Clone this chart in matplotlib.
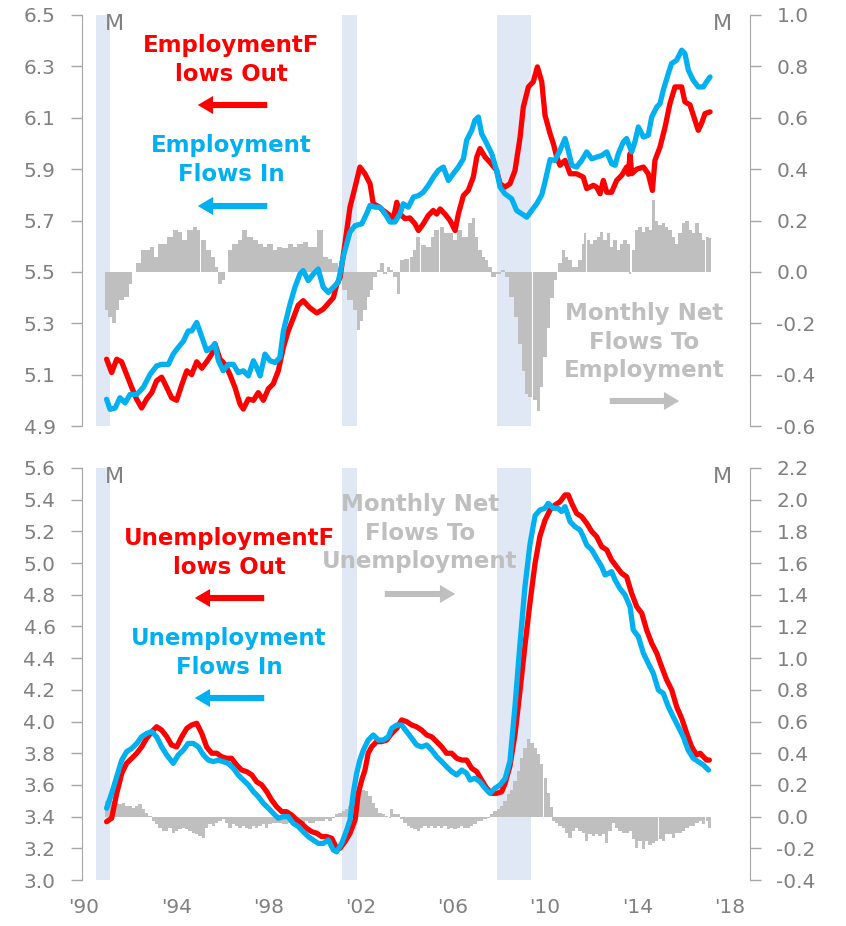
import numpy as np
import matplotlib
matplotlib.use("Agg")
from matplotlib import pyplot as plt
from matplotlib.ticker import FormatStrFormatter

plt.rcParams['font.family'] = ['DejaVu Sans']
plt.rcParams['axes.unicode_minus'] = False

# ---- data (millions, monthly flows) ----
recessions = [(1990.52, 1991.13), (2001.19, 2001.84), (2007.92, 2009.39)]

emp_out_years = [1990.98, 1991.20, 1991.42, 1991.63, 1991.85, 1992.07, 1992.28, 1992.50, 1992.72, 1992.94,
                 1993.15, 1993.37, 1993.59, 1993.80, 1994.02, 1994.24, 1994.46, 1994.67, 1994.89, 1995.11,
                 1995.32, 1995.54, 1995.68, 1995.90, 1996.12, 1996.33, 1996.55, 1996.77, 1996.91, 1997.13,
                 1997.35, 1997.56, 1997.78, 1998.00, 1998.21, 1998.43, 1998.65, 1998.86, 1999.08, 1999.29,
                 1999.51, 1999.80, 2000.10, 2000.38, 2000.67, 2000.82, 2000.96, 2001.11, 2001.32, 2001.54,
                 2001.76, 2001.97, 2002.19, 2002.41, 2002.55, 2002.77, 2002.98, 2003.20, 2003.42, 2003.57,
                 2003.71, 2003.93, 2004.14, 2004.36, 2004.51, 2004.72, 2004.94, 2005.15, 2005.30, 2005.45,
                 2005.66, 2005.88, 2006.10, 2006.24, 2006.46, 2006.67, 2006.89, 2007.04, 2007.18, 2007.40,
                 2007.61, 2007.90, 2008.05, 2008.26, 2008.48, 2008.70, 2008.92, 2009.06, 2009.28, 2009.49,
                 2009.67, 2009.86, 2010.00, 2010.22, 2010.36, 2010.51, 2010.65, 2010.87, 2011.09, 2011.37,
                 2011.66, 2011.81, 2012.10, 2012.24, 2012.39, 2012.53, 2012.68, 2012.89, 2013.11, 2013.33,
                 2013.54, 2013.62, 2013.69, 2013.76, 2013.98, 2014.27, 2014.48, 2014.66, 2014.77, 2014.99,
                 2015.21, 2015.42, 2015.64, 2015.93, 2016.07, 2016.29, 2016.51, 2016.65, 2016.80, 2016.94,
                 2017.16]
emp_out = [5.160, 5.108, 5.160, 5.150, 5.100, 5.050, 5.005, 4.970, 5.005, 5.030,
           5.076, 5.090, 5.050, 5.010, 5.000, 5.060, 5.115, 5.100, 5.150, 5.125,
           5.150, 5.180, 5.220, 5.160, 5.140, 5.100, 5.050, 4.985, 4.966, 5.005,
           5.000, 5.030, 5.000, 5.045, 5.064, 5.115, 5.206, 5.270, 5.320, 5.370,
           5.388, 5.360, 5.340, 5.355, 5.385, 5.400, 5.450, 5.479, 5.610, 5.752,
           5.830, 5.908, 5.882, 5.843, 5.765, 5.755, 5.739, 5.725, 5.707, 5.771,
           5.725, 5.707, 5.710, 5.687, 5.661, 5.687, 5.720, 5.739, 5.725, 5.745,
           5.725, 5.700, 5.661, 5.725, 5.797, 5.817, 5.869, 5.947, 5.980, 5.947,
           5.927, 5.895, 5.843, 5.830, 5.843, 5.895, 6.025, 6.142, 6.220, 6.240,
           6.298, 6.240, 6.110, 6.038, 6.000, 5.947, 5.915, 5.934, 5.882, 5.882,
           5.869, 5.824, 5.837, 5.830, 5.804, 5.856, 5.810, 5.810, 5.856, 5.876,
           5.908, 5.880, 5.960, 5.882, 5.900, 5.908, 5.882, 5.817, 5.934, 5.986,
           6.064, 6.155, 6.220, 6.220, 6.162, 6.150, 6.090, 6.051, 6.080, 6.116,
           6.123]

emp_in_years = [1990.98, 1991.13, 1991.35, 1991.56, 1991.78, 1992.00, 1992.29, 1992.57, 1992.86, 1993.15,
                1993.37, 1993.66, 1993.87, 1994.09, 1994.31, 1994.52, 1994.67, 1994.89, 1995.10, 1995.32,
                1995.54, 1995.68, 1995.83, 1996.04, 1996.26, 1996.48, 1996.69, 1996.91, 1997.13, 1997.35,
                1997.49, 1997.64, 1997.85, 1998.07, 1998.29, 1998.50, 1998.65, 1998.94, 1999.15, 1999.37,
                1999.51, 1999.73, 1999.95, 2000.16, 2000.38, 2000.60, 2000.82, 2001.03, 2001.25, 2001.40,
                2001.54, 2001.76, 2002.05, 2002.26, 2002.41, 2002.62, 2002.84, 2003.06, 2003.28, 2003.49,
                2003.71, 2003.85, 2004.07, 2004.29, 2004.51, 2004.72, 2004.94, 2005.16, 2005.37, 2005.59,
                2005.81, 2006.02, 2006.24, 2006.46, 2006.60, 2006.82, 2006.96, 2007.11, 2007.25, 2007.47,
                2007.69, 2007.90, 2008.05, 2008.26, 2008.55, 2008.77, 2008.99, 2009.21, 2009.42, 2009.64,
                2009.86, 2010.00, 2010.22, 2010.43, 2010.65, 2010.87, 2011.01, 2011.16, 2011.37, 2011.59,
                2011.81, 2012.03, 2012.24, 2012.46, 2012.68, 2012.89, 2013.04, 2013.18, 2013.40, 2013.54,
                2013.76, 2013.90, 2014.05, 2014.27, 2014.48, 2014.63, 2014.85, 2014.99, 2015.13, 2015.35,
                2015.49, 2015.71, 2015.93, 2016.07, 2016.22, 2016.43, 2016.65, 2016.87, 2017.01, 2017.16]
emp_in = [5.004, 4.965, 4.970, 5.010, 4.990, 5.023, 5.023, 5.050, 5.100, 5.134,
          5.140, 5.140, 5.180, 5.206, 5.230, 5.270, 5.270, 5.303, 5.250, 5.193,
          5.206, 5.220, 5.154, 5.115, 5.140, 5.140, 5.108, 5.115, 5.095, 5.154,
          5.128, 5.095, 5.180, 5.154, 5.147, 5.167, 5.270, 5.375, 5.440, 5.492,
          5.505, 5.466, 5.492, 5.511, 5.440, 5.420, 5.440, 5.460, 5.560, 5.610,
          5.655, 5.680, 5.687, 5.726, 5.759, 5.752, 5.752, 5.726, 5.694, 5.694,
          5.726, 5.765, 5.752, 5.791, 5.797, 5.810, 5.837, 5.869, 5.895, 5.908,
          5.856, 5.882, 5.908, 5.940, 6.012, 6.051, 6.090, 6.103, 6.038, 6.000,
          5.960, 5.895, 5.830, 5.804, 5.785, 5.739, 5.726, 5.713, 5.739, 5.765,
          5.800, 5.850, 5.937, 5.934, 5.973, 6.019, 5.973, 5.915, 5.908, 5.934,
          5.967, 5.940, 5.947, 5.953, 5.967, 5.921, 5.915, 5.960, 6.006, 6.019,
          5.967, 6.006, 6.064, 6.025, 6.032, 6.103, 6.142, 6.155, 6.207, 6.272,
          6.311, 6.324, 6.363, 6.350, 6.285, 6.246, 6.220, 6.220, 6.240, 6.259]

emp_net_years = [1990.98, 1991.13, 1991.30, 1991.42, 1991.63, 1991.85, 1992.00, 1992.21, 1992.36, 1992.57,
                 1992.79, 1992.94, 1993.15, 1993.30, 1993.51, 1993.73, 1993.95, 1994.16, 1994.38, 1994.60,
                 1994.82, 1994.96, 1995.18, 1995.39, 1995.61, 1995.76, 1995.90, 1996.04, 1996.19, 1996.33,
                 1996.55, 1996.77, 1996.98, 1997.20, 1997.42, 1997.64, 1997.85, 1998.07, 1998.29, 1998.50,
                 1998.72, 1998.94, 1999.15, 1999.37, 1999.59, 1999.80, 2000.02, 2000.24, 2000.46, 2000.67,
                 2000.89, 2001.11, 2001.32, 2001.54, 2001.76, 2001.90, 2002.05, 2002.19, 2002.33, 2002.48,
                 2002.62, 2002.77, 2002.92, 2003.06, 2003.20, 2003.35, 2003.49, 2003.64, 2003.78, 2004.00,
                 2004.22, 2004.36, 2004.50, 2004.72, 2004.94, 2005.15, 2005.30, 2005.52, 2005.66, 2005.88,
                 2006.10, 2006.31, 2006.53, 2006.75, 2006.89, 2007.04, 2007.18, 2007.32, 2007.47, 2007.61,
                 2007.76, 2007.98, 2008.19, 2008.34, 2008.55, 2008.77, 2008.92, 2009.06, 2009.21, 2009.35,
                 2009.57, 2009.71, 2009.86, 2010.00, 2010.15, 2010.30, 2010.45, 2010.65, 2010.80, 2010.94,
                 2011.08, 2011.23, 2011.37, 2011.52, 2011.66, 2011.74, 2011.88, 2012.03, 2012.17, 2012.31,
                 2012.46, 2012.60, 2012.75, 2012.89, 2013.04, 2013.18, 2013.33, 2013.47, 2013.62, 2013.69,
                 2013.84, 2013.98, 2014.13, 2014.27, 2014.42, 2014.56, 2014.71, 2014.85, 2014.99, 2015.14,
                 2015.28, 2015.43, 2015.57, 2015.72, 2015.86, 2016.01, 2016.16, 2016.30, 2016.45, 2016.59,
                 2016.74, 2016.88, 2017.03, 2017.14]
emp_net = [-0.150, -0.176, -0.200, -0.150, -0.110, -0.098, -0.046, 0.000, 0.033, 0.085,
           0.085, 0.098, 0.059, 0.110, 0.110, 0.137, 0.163, 0.156, 0.124, 0.163,
           0.176, 0.163, 0.124, 0.085, 0.059, 0.020, -0.046, -0.033, 0.000, 0.085,
           0.110, 0.124, 0.163, 0.137, 0.124, 0.110, 0.098, 0.110, 0.085, 0.098,
           0.091, 0.110, 0.098, 0.110, 0.117, 0.098, 0.098, 0.163, 0.059, 0.052,
           0.033, -0.020, -0.072, -0.110, -0.150, -0.228, -0.190, -0.150, -0.098, -0.072,
           -0.020, 0.007, 0.033, -0.007, 0.020, 0.007, -0.020, -0.085, 0.046, 0.052,
           0.059, 0.085, 0.137, 0.104, 0.098, 0.137, 0.163, 0.176, 0.150, 0.150,
           0.124, 0.163, 0.137, 0.189, 0.208, 0.137, 0.085, 0.059, 0.046, 0.020,
           -0.020, -0.007, 0.007, -0.020, -0.098, -0.176, -0.280, -0.384, -0.475, -0.488,
           -0.500, -0.540, -0.450, -0.330, -0.220, -0.100, -0.030, 0.033, 0.085, 0.059,
           0.046, 0.020, 0.020, 0.046, 0.110, 0.150, 0.124, 0.110, 0.124, 0.137,
           0.156, 0.124, 0.150, 0.098, 0.124, 0.085, 0.110, 0.124, 0.110, -0.007,
           0.085, 0.163, 0.176, 0.156, 0.176, 0.163, 0.280, 0.200, 0.182, 0.189,
           0.176, 0.163, 0.137, 0.110, 0.150, 0.189, 0.200, 0.163, 0.150, 0.189,
           0.150, 0.124, 0.137, 0.130]

unemp_out_years = [1990.98, 1991.20, 1991.42, 1991.64, 1991.85, 1992.07, 1992.29, 1992.50, 1992.72, 1992.94,
                   1993.15, 1993.37, 1993.59, 1993.80, 1994.02, 1994.24, 1994.46, 1994.67, 1994.89, 1995.11,
                   1995.32, 1995.54, 1995.76, 1995.97, 1996.19, 1996.40, 1996.62, 1996.84, 1997.06, 1997.28,
                   1997.49, 1997.71, 1997.93, 1998.14, 1998.36, 1998.58, 1998.79, 1999.01, 1999.23, 1999.44,
                   1999.66, 1999.88, 2000.10, 2000.31, 2000.53, 2000.75, 2000.96, 2001.11, 2001.32, 2001.54,
                   2001.76, 2001.90, 2002.05, 2002.19, 2002.33, 2002.48, 2002.69, 2002.91, 2003.13, 2003.35,
                   2003.57, 2003.78, 2004.00, 2004.22, 2004.43, 2004.65, 2004.87, 2005.08, 2005.30, 2005.52,
                   2005.73, 2005.95, 2006.17, 2006.39, 2006.60, 2006.82, 2007.04, 2007.25, 2007.47, 2007.69,
                   2007.90, 2008.12, 2008.27, 2008.48, 2008.70, 2008.92, 2009.13, 2009.35, 2009.57, 2009.78,
                   2010.00, 2010.22, 2010.43, 2010.65, 2010.87, 2011.01, 2011.16, 2011.37, 2011.59, 2011.81,
                   2012.03, 2012.24, 2012.46, 2012.68, 2012.89, 2013.11, 2013.33, 2013.54, 2013.76, 2013.98,
                   2014.20, 2014.41, 2014.63, 2014.85, 2015.06, 2015.28, 2015.50, 2015.71, 2015.93, 2016.15,
                   2016.36, 2016.58, 2016.73, 2016.87, 2017.01, 2017.13]
unemp_out = [3.368, 3.390, 3.547, 3.674, 3.737, 3.768, 3.800, 3.840, 3.894, 3.936,
             3.967, 3.946, 3.904, 3.852, 3.840, 3.904, 3.957, 3.978, 3.989, 3.925,
             3.840, 3.800, 3.800, 3.778, 3.768, 3.768, 3.726, 3.694, 3.684, 3.663,
             3.620, 3.600, 3.557, 3.505, 3.462, 3.431, 3.431, 3.410, 3.379, 3.357,
             3.326, 3.305, 3.295, 3.274, 3.274, 3.263, 3.200, 3.200, 3.242, 3.295,
             3.379, 3.547, 3.631, 3.694, 3.800, 3.840, 3.873, 3.873, 3.883, 3.925,
             3.957, 4.010, 3.999, 3.978, 3.967, 3.946, 3.915, 3.904, 3.873, 3.840,
             3.800, 3.800, 3.768, 3.757, 3.757, 3.705, 3.684, 3.631, 3.579, 3.547,
             3.547, 3.557, 3.610, 3.720, 3.920, 4.200, 4.480, 4.750, 5.000, 5.170,
             5.270, 5.335, 5.366, 5.387, 5.430, 5.430, 5.377, 5.314, 5.293, 5.251,
             5.199, 5.167, 5.104, 5.083, 5.019, 4.977, 4.935, 4.914, 4.809, 4.725,
             4.683, 4.578, 4.494, 4.431, 4.346, 4.262, 4.199, 4.094, 4.020, 3.926,
             3.841, 3.789, 3.800, 3.778, 3.757, 3.757]

unemp_in_years = [1990.98, 1991.20, 1991.42, 1991.64, 1991.85, 1992.07, 1992.29, 1992.50, 1992.72, 1992.94,
                  1993.15, 1993.37, 1993.59, 1993.87, 1994.09, 1994.31, 1994.52, 1994.74, 1994.96, 1995.18,
                  1995.39, 1995.61, 1995.83, 1996.04, 1996.26, 1996.48, 1996.69, 1996.91, 1997.13, 1997.35,
                  1997.56, 1997.78, 1998.00, 1998.21, 1998.43, 1998.65, 1998.86, 1999.08, 1999.30, 1999.51,
                  1999.73, 1999.95, 2000.16, 2000.38, 2000.60, 2000.82, 2000.96, 2001.18, 2001.40, 2001.54,
                  2001.68, 2001.83, 2001.97, 2002.12, 2002.33, 2002.55, 2002.77, 2002.98, 2003.20, 2003.35,
                  2003.57, 2003.78, 2004.00, 2004.22, 2004.43, 2004.65, 2004.87, 2005.08, 2005.30, 2005.52,
                  2005.73, 2005.95, 2006.17, 2006.39, 2006.60, 2006.75, 2006.96, 2007.18, 2007.40, 2007.61,
                  2007.83, 2008.05, 2008.27, 2008.48, 2008.70, 2008.92, 2009.13, 2009.35, 2009.57, 2009.78,
                  2010.00, 2010.14, 2010.36, 2010.57, 2010.72, 2010.87, 2011.09, 2011.30, 2011.52, 2011.66,
                  2011.81, 2012.03, 2012.24, 2012.46, 2012.61, 2012.75, 2012.89, 2013.04, 2013.25, 2013.47,
                  2013.69, 2013.83, 2014.05, 2014.27, 2014.48, 2014.70, 2014.92, 2015.13, 2015.35, 2015.56,
                  2015.78, 2016.00, 2016.21, 2016.43, 2016.65, 2016.87, 2017.09]
unemp_in = [3.453, 3.547, 3.652, 3.757, 3.810, 3.830, 3.862, 3.904, 3.925, 3.936,
            3.904, 3.840, 3.789, 3.736, 3.789, 3.820, 3.862, 3.862, 3.840, 3.789,
            3.757, 3.747, 3.757, 3.747, 3.736, 3.705, 3.663, 3.631, 3.600, 3.557,
            3.526, 3.484, 3.453, 3.421, 3.390, 3.400, 3.400, 3.357, 3.337, 3.305,
            3.274, 3.252, 3.231, 3.231, 3.252, 3.189, 3.178, 3.231, 3.316, 3.379,
            3.547, 3.674, 3.757, 3.820, 3.883, 3.915, 3.883, 3.883, 3.904, 3.957,
            3.978, 3.978, 3.936, 3.894, 3.852, 3.840, 3.852, 3.820, 3.778, 3.747,
            3.715, 3.684, 3.663, 3.694, 3.674, 3.631, 3.642, 3.620, 3.579, 3.547,
            3.579, 3.600, 3.640, 3.750, 4.100, 4.500, 4.850, 5.120, 5.300, 5.335,
            5.346, 5.377, 5.346, 5.346, 5.325, 5.356, 5.261, 5.230, 5.209, 5.167,
            5.114, 5.083, 5.030, 4.977, 4.925, 4.935, 4.946, 4.893, 4.840, 4.799,
            4.725, 4.578, 4.536, 4.431, 4.367, 4.304, 4.199, 4.178, 4.094, 4.031,
            3.968, 3.904, 3.820, 3.768, 3.747, 3.726, 3.694]

unemp_net_years = [1990.98, 1991.13, 1991.27, 1991.42, 1991.56, 1991.71, 1991.85, 1992.00, 1992.14, 1992.29,
                   1992.43, 1992.57, 1992.72, 1992.86, 1993.01, 1993.15, 1993.30, 1993.44, 1993.59, 1993.73,
                   1993.87, 1994.02, 1994.16, 1994.31, 1994.45, 1994.60, 1994.74, 1994.89, 1995.03, 1995.18,
                   1995.32, 1995.47, 1995.61, 1995.75, 1995.90, 1996.04, 1996.19, 1996.33, 1996.48, 1996.62,
                   1996.77, 1996.91, 1997.06, 1997.20, 1997.35, 1997.49, 1997.64, 1997.78, 1997.93, 1998.07,
                   1998.22, 1998.36, 1998.50, 1998.65, 1998.79, 1998.94, 1999.08, 1999.23, 1999.37, 1999.51,
                   1999.66, 1999.80, 1999.95, 2000.09, 2000.24, 2000.38, 2000.53, 2000.67, 2000.82, 2000.96,
                   2001.11, 2001.25, 2001.40, 2001.54, 2001.68, 2001.83, 2001.97, 2002.12, 2002.26, 2002.41,
                   2002.55, 2002.70, 2002.84, 2002.99, 2003.13, 2003.27, 2003.35, 2003.49, 2003.64, 2003.78,
                   2003.93, 2004.07, 2004.22, 2004.36, 2004.51, 2004.65, 2004.79, 2004.94, 2005.08, 2005.23,
                   2005.37, 2005.52, 2005.66, 2005.81, 2005.95, 2006.10, 2006.24, 2006.38, 2006.53, 2006.67,
                   2006.82, 2006.96, 2007.11, 2007.25, 2007.40, 2007.54, 2007.69, 2007.83, 2007.98, 2008.12,
                   2008.27, 2008.41, 2008.56, 2008.70, 2008.85, 2008.99, 2009.14, 2009.28, 2009.43, 2009.57,
                   2009.72, 2009.86, 2010.01, 2010.15, 2010.29, 2010.36, 2010.51, 2010.65, 2010.80, 2010.94,
                   2011.08, 2011.23, 2011.37, 2011.52, 2011.66, 2011.81, 2011.95, 2012.10, 2012.24, 2012.39,
                   2012.53, 2012.68, 2012.82, 2012.97, 2013.11, 2013.26, 2013.40, 2013.55, 2013.69, 2013.84,
                   2013.98, 2014.13, 2014.27, 2014.42, 2014.56, 2014.71, 2014.85, 2015.00, 2015.14, 2015.28,
                   2015.43, 2015.57, 2015.72, 2015.86, 2016.01, 2016.16, 2016.30, 2016.45, 2016.59, 2016.74,
                   2016.88, 2017.03, 2017.14]
unemp_net = [0.098, 0.098, 0.098, 0.087, 0.077, 0.087, 0.066, 0.066, 0.056, 0.066,
             0.077, 0.045, 0.024, 0.003, -0.028, -0.049, -0.070, -0.091, -0.091, -0.070,
             -0.102, -0.091, -0.081, -0.070, -0.081, -0.091, -0.102, -0.112, -0.123, -0.134,
             -0.070, -0.049, -0.060, -0.039, -0.028, -0.018, -0.039, -0.070, -0.049, -0.060,
             -0.070, -0.060, -0.070, -0.081, -0.060, -0.070, -0.060, -0.049, -0.070, -0.049,
             -0.039, -0.039, -0.039, -0.049, -0.049, -0.039, -0.060, -0.039, -0.049, -0.039,
             -0.028, -0.039, -0.039, -0.028, -0.028, -0.028, -0.018, -0.028, -0.007, 0.014,
             0.024, 0.035, 0.045, 0.066, 0.098, 0.140, 0.161, 0.171, 0.161, 0.129,
             0.087, 0.056, 0.024, 0.014, 0.003, -0.007, 0.045, 0.014, 0.014, -0.018,
             -0.039, -0.060, -0.070, -0.081, -0.091, -0.070, -0.060, -0.070, -0.060, -0.070,
             -0.060, -0.070, -0.060, -0.081, -0.070, -0.081, -0.070, -0.060, -0.070, -0.070,
             -0.060, -0.049, -0.028, -0.028, -0.018, -0.007, 0.014, 0.035, 0.045, 0.066,
             0.098, 0.140, 0.171, 0.224, 0.287, 0.371, 0.434, 0.487, 0.466, 0.434,
             0.392, 0.329, 0.245, 0.150, 0.060, -0.028, -0.039, -0.060, -0.070, -0.102,
             -0.134, -0.091, -0.070, -0.091, -0.102, -0.155, -0.112, -0.123, -0.112, -0.123,
             -0.112, -0.165, -0.091, -0.039, -0.070, -0.091, -0.102, -0.102, -0.091, -0.144,
             -0.197, -0.155, -0.207, -0.155, -0.176, -0.165, -0.155, -0.144, -0.155, -0.112,
             -0.112, -0.134, -0.102, -0.102, -0.091, -0.070, -0.060, -0.060, -0.039, -0.028,
             -0.049, -0.028, -0.070]

x_ticks = list(range(1990, 2019, 4))
x_labels = ["'90", "'94", "'98", "'02", "'06", "'10", "'14", "'18"]

RED = '#ff0000'
BLUE = '#00b0f0'
BAR = '#bfbfbf'
SHADE = '#dfe8f4'
TICK = '#808080'
SPINE = '#a6a6a6'

W, H = 846, 926
fig = plt.figure(figsize=(W / 100, H / 100), dpi=100)


def fx(px):
    return px / W


def fy(py):
    return 1 - py / H


def panel(top, bottom, left_lim, right_lim, out_y, out_v, in_y, in_v, net_y, net_v, show_x):
    ax2 = fig.add_axes([fx(82), fy(bottom), fx(750) - fx(82), fy(top) - fy(bottom)])
    ax = ax2.twinx()
    # lines on top of bars: left-scale axis drawn last
    ax2.yaxis.tick_right()
    ax2.yaxis.set_label_position('right')
    ax.yaxis.tick_left()
    ax.yaxis.set_label_position('left')
    ax.set_zorder(ax2.get_zorder() + 1)
    ax.patch.set_visible(False)

    for a, b in recessions:
        ax2.axvspan(a, b, color=SHADE, lw=0, zorder=0)
    ny = np.array(net_y)
    widths = np.gradient(ny) * 1.02
    ax2.bar(ny, net_v, width=widths, color=BAR, lw=0, zorder=1)

    ax.plot(out_y, out_v, color=RED, lw=3.8, solid_capstyle='round', solid_joinstyle='round', zorder=3)
    ax.plot(in_y, in_v, color=BLUE, lw=3.8, solid_capstyle='round', solid_joinstyle='round', zorder=4)

    ax.set_xlim(1989.913, 2018.894)
    for a, lim in ((ax, left_lim), (ax2, right_lim)):
        a.set_yticks(np.arange(lim[0], lim[1] + 0.01, 0.2))
        a.yaxis.set_major_formatter(FormatStrFormatter('%.1f'))
        a.set_ylim(*lim)
        for s in a.spines.values():
            s.set_visible(False)
        a.tick_params(axis='y', direction='out', length=8, width=1, color=SPINE,
                      labelcolor=TICK, labelsize=14.5, pad=11)
    ax.spines['left'].set_visible(True)
    ax.spines['left'].set_color(SPINE)
    ax2.spines['right'].set_visible(True)
    ax2.spines['right'].set_color(SPINE)

    ax2.set_xticks(x_ticks)
    ax.set_xticks(x_ticks)
    if show_x:
        ax2.set_xticklabels(x_labels)
        ax2.tick_params(axis='x', length=0, labelcolor=TICK, labelsize=14.5, pad=13)
    else:
        ax2.tick_params(axis='x', length=0, labelbottom=False)
    ax.tick_params(axis='x', length=0, labelbottom=False)
    return ax, ax2


panel(15, 426, (4.9, 6.5), (-0.6, 1.0), emp_out_years, emp_out, emp_in_years, emp_in,
      emp_net_years, emp_net, False)
panel(468, 880, (3.0, 5.6), (-0.4, 2.2), unemp_out_years, unemp_out, unemp_in_years, unemp_in,
      unemp_net_years, unemp_net, True)


def label(x, y, s, color):
    fig.text(fx(x), fy(y), s, color=color, fontsize=16.5, fontweight='bold',
             ha='center', va='center', linespacing=1.3)


def arrow(x0, x1, y, color):
    fig.add_artist(matplotlib.patches.FancyArrowPatch(
        (fx(x0), fy(y)), (fx(x1), fy(y)), transform=fig.transFigure,
        arrowstyle='simple,head_length=0.55,head_width=0.65,tail_width=0.22',
        mutation_scale=20, color=color, lw=0))


# units marks
for yy in (24, 477):
    fig.text(fx(114), fy(yy), 'M', color=TICK, fontsize=16, ha='center', va='center')
    fig.text(fx(722), fy(yy), 'M', color=TICK, fontsize=16, ha='center', va='center')

label(231, 60, 'EmploymentF\nlows Out', RED)
arrow(270, 195, 105, RED)
label(231, 160, 'Employment\nFlows In', BLUE)
arrow(270, 195, 206, BLUE)
label(644, 342, 'Monthly Net\nFlows To\nEmployment', BAR)
arrow(607, 682, 401, BAR)

label(229, 553, 'UnemploymentF\nlows Out', RED)
arrow(267, 192, 598, RED)
label(229, 653, 'Unemployment\nFlows In', BLUE)
arrow(267, 192, 698, BLUE)
label(420, 533, 'Monthly Net\nFlows To\nUnemployment', BAR)
arrow(382, 458, 594, BAR)

fig.savefig('out.png', dpi=100)
